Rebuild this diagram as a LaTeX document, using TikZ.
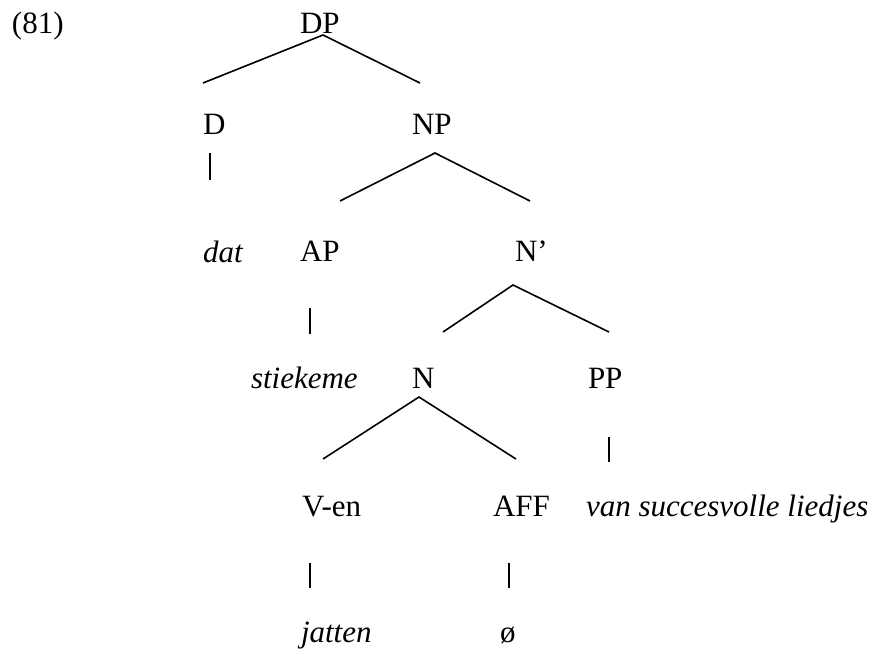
\documentclass[tikz,border=0pt]{standalone}
\usepackage{fontspec}
\setmainfont{Liberation Serif}
\begin{document}
\begin{tikzpicture}[x=1pt,y=-1pt,
  lbl/.style={anchor=base west,inner sep=0pt,outer sep=0pt,font=\fontsize{31}{37}\selectfont},
  word/.style={lbl,font=\fontsize{31}{37}\selectfont\itshape},
  branch/.style={line width=1.6pt},
  bar/.style={line width=1.6pt}]
\useasboundingbox (0,0) rectangle (880,650);
% labels
\node[lbl] (ex) at (12,34) {(81)};
\node[lbl] (DP) at (300,34) {DP};
\node[lbl] (D) at (203,135) {D};
\node[lbl] (NP) at (412,135) {NP};
\node[word] (dat) at (203,262) {dat};
\node[lbl] (AP) at (300,261) {AP};
\node[lbl] (Nbar) at (515,261) {N’};
\node[word] (stiekeme) at (251,388) {stiekeme};
\node[lbl] (N) at (412,388) {N};
\node[lbl] (PP) at (588,388) {PP};
\node[lbl] (Ven) at (302,516) {V-en};
\node[lbl] (AFF) at (493,516) {AFF};
\node[word] (van) at (586,516) {van succesvolle liedjes};
\node[word] (jatten) at (301,642) {jatten};
\node[lbl] (null) at (500,642) {ø};
% branch points
\coordinate (dpA) at (323,35);
\coordinate (dpL) at (203,83);
\coordinate (dpR) at (420,83);
\coordinate (npA) at (435,153);
\coordinate (npL) at (340,201);
\coordinate (npR) at (530,201);
\coordinate (nbA) at (513,285);
\coordinate (nbL) at (443,332);
\coordinate (nbR) at (609,332);
\coordinate (nA) at (419,397);
\coordinate (nL) at (323,459);
\coordinate (nR) at (516,459);
\draw[branch] (dpL) -- (dpA) -- (dpR);
\draw[branch] (npL) -- (npA) -- (npR);
\draw[branch] (nbL) -- (nbA) -- (nbR);
\draw[branch] (nL) -- (nA) -- (nR);
% unary bars
\coordinate (dT) at (210,153); \coordinate (dB) at (210,180);
\coordinate (apT) at (310,308); \coordinate (apB) at (310,334);
\coordinate (ppT) at (609,437); \coordinate (ppB) at (609,462);
\coordinate (vT) at (310,563); \coordinate (vB) at (310,588);
\coordinate (aT) at (509,563); \coordinate (aB) at (509,588);
\draw[bar] (dT) -- (dB);
\draw[bar] (apT) -- (apB);
\draw[bar] (ppT) -- (ppB);
\draw[bar] (vT) -- (vB);
\draw[bar] (aT) -- (aB);
\end{tikzpicture}
\end{document}
